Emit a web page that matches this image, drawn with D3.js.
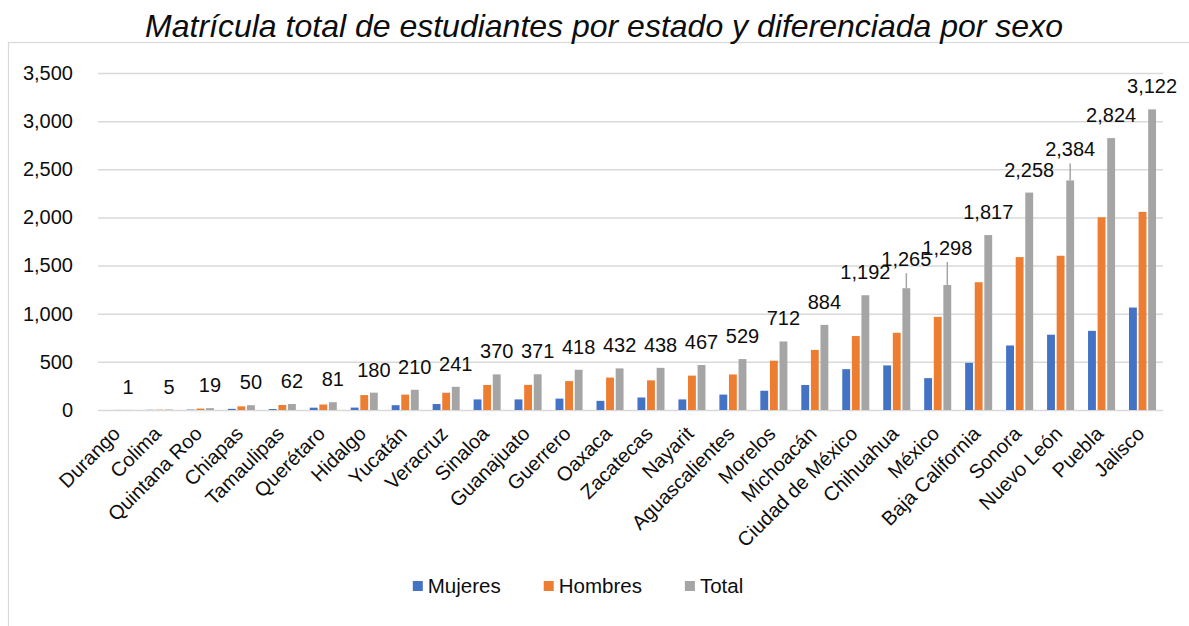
<!DOCTYPE html>
<html>
<head>
<meta charset="utf-8">
<script src="https://cdn.jsdelivr.net/npm/d3@7"></script>
<style>
    html, body { margin: 0; padding: 0; background: #fff; }
    #chart { width: 1189px; height: 626px; overflow: hidden; }
    text { font-family: "Liberation Sans", Arial, sans-serif; fill: #0d0d0d; }
</style>
</head>
<body>
<div id="chart"></div>
<script>
const states = ['Durango', 'Colima', 'Quintana Roo', 'Chiapas', 'Tamaulipas', 'Querétaro', 'Hidalgo',
    'Yucatán', 'Veracruz', 'Sinaloa', 'Guanajuato', 'Guerrero', 'Oaxaca', 'Zacatecas', 'Nayarit',
    'Aguascalientes', 'Morelos', 'Michoacán', 'Ciudad de México', 'Chihuahua', 'México',
    'Baja California', 'Sonora', 'Nuevo León', 'Puebla', 'Jalisco'];

const mujeres = [0, 2, 4, 12, 10, 24, 25, 50, 62, 110, 110, 118, 95, 130, 110, 160, 200, 260, 424, 463, 331, 490, 670, 782, 822, 1064];
const hombres = [1, 3, 15, 38, 52, 57, 155, 160, 179, 260, 261, 300, 337, 308, 357, 369, 512, 624, 768, 802, 967, 1327, 1588, 1602, 2002, 2058];
const total = [1, 5, 19, 50, 62, 81, 180, 210, 241, 370, 371, 418, 432, 438, 467, 529, 712, 884, 1192, 1265, 1298, 1817, 2258, 2384, 2824, 3122];

const seriesNames = ['Mujeres', 'Hombres', 'Total'];
const yTicks = [0, 500, 1000, 1500, 2000, 2500, 3000, 3500];

const config = {
    width: 1189,
    height: 626,
    plot: {left: 98, right: 1163, top: 73, bottom: 410},
    colors: ['#4472c4', '#ed7d31', '#a5a5a5'],
    grid: '#d9d9d9',
    fontSize: 20,
    labelGap: 16,
    // labels that Excel pushed up, with a leader line back to the bar
    lifted: {'Chihuahua': 6, 'México': 14, 'Nuevo León': 8},
};

const series = [mujeres, hombres, total];
const rows = states.map((s, i) => ({state: s, values: series.map((arr, k) => ({key: seriesNames[k], value: arr[i]}))}));

const svg = d3.select('#chart')
    .append('svg')
        .attr('width', config.width)
        .attr('height', config.height);

// outer chart frame
svg.append('rect')
    .attr('x', 8.5)
    .attr('y', 42.5)
    .attr('width', 1300)
    .attr('height', 700)
    .attr('fill', 'none')
    .attr('stroke', config.grid)
    .attr('stroke-width', 1.2);

svg.append('text')
    .attr('x', 604)
    .attr('y', 37)
    .attr('text-anchor', 'middle')
    .style('font-size', '32px')
    .style('font-style', 'italic')
    .text('Matrícula total de estudiantes por estado y diferenciada por sexo');

const x0 = d3.scaleBand()
    .domain(states)
    .range([config.plot.left, config.plot.right])
    .paddingInner(0.34)
    .paddingOuter(0.17);

const x1 = d3.scaleBand()
    .domain(seriesNames)
    .range([0, x0.bandwidth()])
    .paddingInner(0.18);

const y = d3.scaleLinear()
    .domain([0, 3500])
    .range([config.plot.bottom, config.plot.top]);

// gridlines + y labels
const yAxis = svg.append('g')
    .attr('transform', `translate(${config.plot.left}, 0)`)
    .call(d3.axisLeft(y)
        .tickValues(yTicks)
        .tickSize(-(config.plot.right - config.plot.left))
        .tickPadding(25)
        .tickFormat(d3.format(',')));
yAxis.select('.domain').remove();
yAxis.selectAll('line').attr('stroke', config.grid).attr('stroke-width', 1.5);
yAxis.selectAll('text')
    .attr('fill', '#0d0d0d')
    .style('font-size', config.fontSize + 'px')
    .style('font-family', '"Liberation Sans", Arial, sans-serif');

// bars
const groups = svg.append('g')
    .selectAll('g')
    .data(rows)
    .enter()
    .append('g')
    .attr('transform', d => `translate(${x0(d.state)}, 0)`);

groups.selectAll('rect')
    .data(d => d.values)
    .enter()
    .append('rect')
    .attr('x', d => x1(d.key))
    .attr('y', d => y(d.value))
    .attr('width', x1.bandwidth())
    .attr('height', d => y(0) - y(d.value))
    .attr('fill', (d, i) => config.colors[i]);

// total value labels
const totalX = d => x0(d.state) + x1('Total') + x1.bandwidth() / 2;
const labels = svg.append('g');
rows.forEach((d, i) => {
    const v = total[i];
    const lift = config.lifted[d.state] || 0;
    const base = y(v) - config.labelGap - lift;
    if (lift) {
        labels.append('line')
            .attr('x1', totalX(d)).attr('x2', totalX(d))
            .attr('y1', y(v)).attr('y2', base + 7)
            .attr('stroke', '#a5a5a5')
            .attr('stroke-width', 1.5);
    }
    labels.append('text')
        .attr('x', totalX(d))
        .attr('y', base)
        .attr('text-anchor', 'middle')
        .style('font-size', config.fontSize + 'px')
        .text(d3.format(',')(v));
});

// category labels, rotated
svg.append('g')
    .selectAll('text')
    .data(states)
    .enter()
    .append('text')
    .attr('transform', d => `translate(${x0(d) + x0.bandwidth() / 2 + 3}, 435) rotate(-45)`)
    .attr('text-anchor', 'end')
    .style('font-size', '20px')
    .text(d => d);

// legend
const legend = svg.append('g').attr('transform', 'translate(0, 593)');
let lx = 0;
seriesNames.forEach((name, i) => {
    const item = legend.append('g').attr('transform', `translate(${lx}, 0)`);
    item.append('rect')
        .attr('x', 0).attr('y', -12)
        .attr('width', 10).attr('height', 10)
        .attr('fill', config.colors[i]);
    const t = item.append('text')
        .attr('x', 15)
        .style('font-size', '20.5px')
        .text(name);
    lx += 15 + t.node().getComputedTextLength() + 43;
});
const legendWidth = lx - 43;
legend.attr('transform', `translate(${578 - legendWidth / 2}, 593)`);
</script>
</body>
</html>
